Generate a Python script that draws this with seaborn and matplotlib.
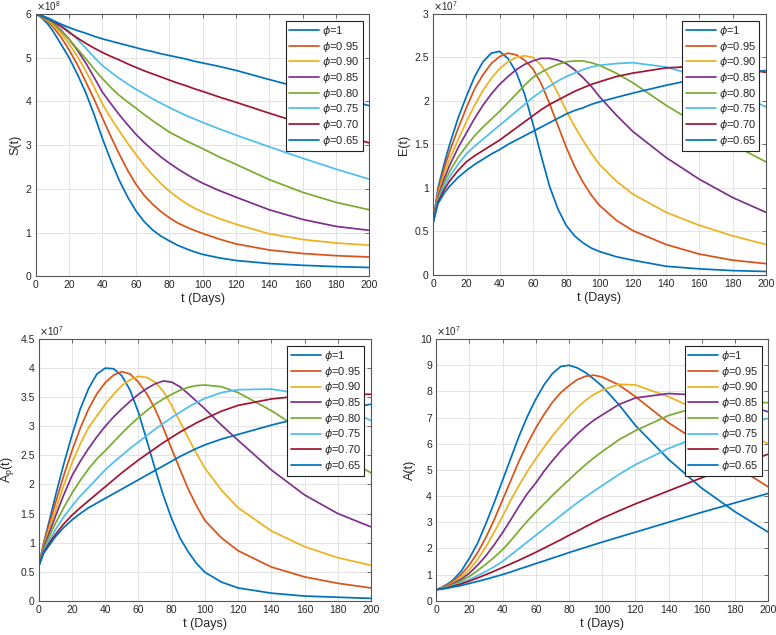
import numpy as np
import pandas as pd
import matplotlib
matplotlib.use('Agg')
import matplotlib.pyplot as plt
from matplotlib.ticker import FormatStrFormatter
import seaborn as sns

# time samples (days)
t_days = [0, 3, 7, 10, 15, 20, 25, 30, 35, 40, 45, 50, 55, 60, 65, 70, 75, 80, 85, 90, 95, 100, 110, 120, 140, 160, 180, 200]

phi_labels = [r'$\phi$=1', r'$\phi$=0.95', r'$\phi$=0.90', r'$\phi$=0.85',
              r'$\phi$=0.80', r'$\phi$=0.75', r'$\phi$=0.70', r'$\phi$=0.65']

# S(t), units of 1e8
S_1 = [6.00,5.93,5.78,5.63,5.32,5.00,4.62,4.20,3.70,3.15,2.65,2.20,1.82,1.50,1.25,1.06,0.92,0.81,0.71,0.63,0.56,0.50,0.42,0.36,0.29,0.25,0.22,0.20]
S_095 = [6.00,5.94,5.83,5.72,5.48,5.18,4.84,4.45,4.05,3.62,3.20,2.80,2.43,2.11,1.85,1.65,1.48,1.34,1.22,1.13,1.05,0.98,0.85,0.74,0.60,0.52,0.47,0.44]
S_090 = [6.00,5.95,5.86,5.77,5.57,5.32,5.03,4.70,4.33,3.94,3.62,3.33,3.05,2.79,2.54,2.32,2.12,1.95,1.80,1.67,1.56,1.47,1.32,1.19,0.97,0.84,0.76,0.71]
S_085 = [6.00,5.96,5.88,5.81,5.64,5.42,5.17,4.88,4.55,4.21,3.95,3.70,3.47,3.25,3.06,2.89,2.73,2.59,2.46,2.34,2.23,2.13,1.96,1.81,1.52,1.30,1.14,1.05]
S_080 = [6.00,5.96,5.88,5.80,5.62,5.42,5.20,4.98,4.74,4.52,4.32,4.14,3.99,3.85,3.70,3.56,3.43,3.30,3.20,3.10,3.01,2.92,2.73,2.56,2.21,1.92,1.69,1.52]
S_075 = [6.00,5.97,5.92,5.87,5.76,5.60,5.42,5.22,5.01,4.82,4.67,4.53,4.40,4.28,4.17,4.06,3.96,3.86,3.77,3.68,3.60,3.52,3.37,3.23,2.96,2.70,2.45,2.22]
S_070 = [6.00,5.97,5.90,5.84,5.72,5.58,5.45,5.33,5.22,5.12,5.03,4.95,4.86,4.78,4.70,4.63,4.56,4.49,4.42,4.36,4.29,4.23,4.10,3.98,3.73,3.49,3.26,3.05]
S_065 = [6.00,5.96,5.90,5.85,5.77,5.69,5.62,5.56,5.49,5.43,5.38,5.33,5.28,5.23,5.18,5.14,5.09,5.05,5.01,4.97,4.92,4.88,4.80,4.71,4.50,4.30,4.10,3.90]

# E(t), units of 1e7
E_1 = [0.60,1.00,1.30,1.50,1.80,2.05,2.28,2.45,2.55,2.57,2.49,2.33,2.08,1.74,1.37,1.02,0.76,0.57,0.45,0.37,0.31,0.27,0.21,0.17,0.10,0.07,0.05,0.04]
E_095 = [0.60,0.97,1.24,1.42,1.68,1.92,2.14,2.30,2.43,2.51,2.55,2.53,2.47,2.37,2.20,1.97,1.72,1.47,1.25,1.07,0.92,0.80,0.63,0.51,0.35,0.24,0.17,0.13]
E_090 = [0.60,0.93,1.18,1.33,1.55,1.76,1.95,2.12,2.26,2.37,2.45,2.50,2.52,2.50,2.41,2.27,2.09,1.89,1.71,1.55,1.40,1.27,1.08,0.93,0.72,0.57,0.45,0.35]
E_085 = [0.60,0.90,1.12,1.26,1.46,1.63,1.80,1.95,2.08,2.19,2.28,2.36,2.42,2.46,2.49,2.49,2.47,2.43,2.36,2.27,2.17,2.05,1.84,1.65,1.35,1.10,0.89,0.72]
E_080 = [0.60,0.88,1.07,1.19,1.35,1.48,1.60,1.70,1.79,1.88,1.98,2.08,2.18,2.27,2.33,2.38,2.42,2.45,2.46,2.46,2.44,2.41,2.32,2.21,1.95,1.72,1.50,1.30]
E_075 = [0.60,0.86,1.03,1.13,1.27,1.39,1.48,1.56,1.64,1.72,1.80,1.88,1.96,2.04,2.11,2.17,2.23,2.28,2.32,2.36,2.39,2.41,2.43,2.44,2.39,2.28,2.12,1.93]
E_070 = [0.60,0.84,0.99,1.08,1.20,1.30,1.37,1.43,1.49,1.55,1.62,1.69,1.76,1.83,1.90,1.96,2.01,2.06,2.11,2.15,2.19,2.22,2.28,2.32,2.38,2.40,2.38,2.33]
E_065 = [0.60,0.82,0.95,1.02,1.12,1.20,1.27,1.33,1.39,1.44,1.50,1.55,1.60,1.65,1.70,1.75,1.80,1.85,1.89,1.92,1.96,1.99,2.04,2.09,2.18,2.26,2.31,2.35]

# Ap(t), units of 1e7
Ap_1 = [0.60,1.00,1.45,1.80,2.35,2.85,3.30,3.65,3.90,4.00,3.99,3.87,3.62,3.24,2.76,2.27,1.81,1.41,1.08,0.84,0.64,0.49,0.32,0.22,0.13,0.08,0.06,0.04]
Ap_095 = [0.60,0.98,1.38,1.68,2.15,2.58,2.97,3.30,3.56,3.75,3.88,3.94,3.90,3.76,3.56,3.30,2.97,2.61,2.26,1.92,1.63,1.38,1.08,0.86,0.58,0.41,0.30,0.22]
Ap_090 = [0.60,0.95,1.30,1.55,1.98,2.37,2.70,2.98,3.18,3.38,3.55,3.70,3.80,3.86,3.84,3.76,3.60,3.36,3.08,2.80,2.53,2.28,1.90,1.60,1.20,0.93,0.74,0.61]
Ap_085 = [0.60,0.92,1.22,1.45,1.82,2.15,2.40,2.62,2.82,3.00,3.16,3.30,3.43,3.55,3.65,3.73,3.78,3.76,3.68,3.56,3.43,3.30,3.02,2.76,2.25,1.82,1.50,1.27]
Ap_080 = [0.60,0.89,1.15,1.33,1.60,1.85,2.07,2.27,2.44,2.58,2.73,2.88,3.02,3.15,3.27,3.38,3.47,3.55,3.62,3.67,3.70,3.71,3.68,3.58,3.27,2.90,2.52,2.20]
Ap_075 = [0.60,0.86,1.07,1.22,1.44,1.63,1.80,1.95,2.10,2.25,2.38,2.50,2.62,2.73,2.84,2.95,3.05,3.15,3.24,3.33,3.41,3.48,3.58,3.63,3.64,3.55,3.35,3.10]
Ap_070 = [0.60,0.84,1.02,1.14,1.32,1.47,1.60,1.72,1.84,1.96,2.08,2.20,2.31,2.42,2.52,2.62,2.72,2.81,2.90,2.98,3.06,3.13,3.26,3.36,3.47,3.53,3.55,3.55]
Ap_065 = [0.60,0.82,0.98,1.10,1.26,1.39,1.50,1.60,1.68,1.76,1.84,1.92,2.00,2.08,2.16,2.24,2.32,2.40,2.48,2.55,2.62,2.68,2.78,2.86,3.02,3.16,3.28,3.38]

# A(t), units of 1e7
A_1 = [0.42,0.50,0.64,0.78,1.12,1.62,2.20,2.95,3.75,4.60,5.45,6.30,7.05,7.70,8.25,8.68,8.95,9.00,8.90,8.72,8.47,8.20,7.50,6.70,5.40,4.30,3.40,2.62]
A_095 = [0.42,0.49,0.61,0.73,1.00,1.36,1.84,2.42,3.10,3.85,4.60,5.35,6.00,6.60,7.12,7.58,7.95,8.22,8.45,8.58,8.62,8.55,8.25,7.80,6.80,5.98,5.15,4.35]
A_090 = [0.42,0.48,0.58,0.68,0.90,1.18,1.58,2.06,2.62,3.22,3.85,4.42,4.95,5.42,5.87,6.30,6.68,7.05,7.38,7.66,7.88,8.05,8.27,8.25,7.80,7.22,6.60,6.00]
A_085 = [0.42,0.47,0.56,0.64,0.82,1.05,1.36,1.72,2.14,2.60,3.10,3.62,4.10,4.50,4.95,5.35,5.72,6.05,6.37,6.65,6.90,7.10,7.50,7.75,7.92,7.85,7.60,7.22]
A_080 = [0.42,0.47,0.54,0.61,0.75,0.93,1.15,1.40,1.66,1.95,2.30,2.68,3.05,3.38,3.70,4.02,4.33,4.62,4.92,5.20,5.46,5.70,6.15,6.50,7.08,7.45,7.60,7.57]
A_075 = [0.42,0.46,0.52,0.57,0.68,0.81,0.96,1.12,1.30,1.50,1.75,2.00,2.25,2.50,2.75,3.00,3.25,3.50,3.74,3.97,4.19,4.40,4.82,5.20,5.82,6.32,6.70,6.97]
A_070 = [0.42,0.45,0.50,0.55,0.64,0.75,0.87,1.00,1.13,1.27,1.41,1.55,1.70,1.85,2.01,2.17,2.33,2.50,2.66,2.83,2.99,3.15,3.43,3.70,4.20,4.70,5.17,5.60]
A_065 = [0.42,0.44,0.48,0.52,0.58,0.66,0.74,0.82,0.91,1.00,1.10,1.21,1.31,1.42,1.52,1.63,1.73,1.84,1.94,2.04,2.14,2.24,2.43,2.62,3.00,3.38,3.74,4.10]

# matlab default line colours
colors = ['#0072BD', '#D95319', '#EDB120', '#7E2F8E', '#77AC30', '#4DBEEE', '#A2142F', '#0072BD']

sns.set_style('white')
plt.rcParams['font.family'] = ['Liberation Sans', 'DejaVu Sans']
plt.rcParams['mathtext.fontset'] = 'dejavusans'

panels = [
    (S_1, S_095, S_090, S_085, S_080, S_075, S_070, S_065),
    (E_1, E_095, E_090, E_085, E_080, E_075, E_070, E_065),
    (Ap_1, Ap_095, Ap_090, Ap_085, Ap_080, Ap_075, Ap_070, Ap_065),
    (A_1, A_095, A_090, A_085, A_080, A_075, A_070, A_065),
]
ylabels = ['S(t)', 'E(t)', r'A$_\mathregular{p}$(t)', 'A(t)']
exps = ['8', '7', '7', '7']
ylims = [(0, 6), (0, 3), (0, 4.5), (0, 10)]
ysteps = [1, 0.5, 0.5, 1]
# axes rectangles [left, bottom, width, height] in figure fraction
rects = [[0.046, 0.565, 0.430, 0.413],
         [0.558, 0.567, 0.429, 0.411],
         [0.050, 0.054, 0.428, 0.412],
         [0.562, 0.054, 0.428, 0.412]]

fig = plt.figure(figsize=(7.76, 6.35), dpi=100)

for k in range(4):
    ax = fig.add_axes(rects[k])
    for i in range(8):
        sns.lineplot(x=t_days, y=panels[k][i], color=colors[i], label=phi_labels[i],
                     linewidth=1.25, ax=ax, estimator=None, sort=False)
    ax.set_xlim(0, 200)
    ax.set_ylim(*ylims[k])
    ax.set_xticks(np.arange(0, 201, 20))
    ax.set_yticks(np.arange(ylims[k][0], ylims[k][1] + 0.001, ysteps[k]))
    ax.yaxis.set_major_formatter(FormatStrFormatter('%g'))
    ax.grid(True, color='#dedede', linewidth=0.6)
    ax.set_axisbelow(True)
    for sp in ax.spines.values():
        sp.set_color('#555555')
        sp.set_linewidth(0.8)
        sp.set_visible(True)
    ax.tick_params(direction='in', length=3, width=0.6, color='#555555',
                   top=True, right=True, labelsize=7.5, labelcolor='#262626', pad=3)
    ax.set_xlabel('t (Days)', fontsize=9, color='#262626', labelpad=2)
    ax.set_ylabel(ylabels[k], fontsize=9, color='#262626', labelpad=3)
    ax.text(0.0, 1.005, r'$\times\mathregular{10^{%s}}$' % exps[k], transform=ax.transAxes,
            fontsize=7, color='#262626', ha='left', va='bottom')
    leg = ax.legend(loc='upper right', fontsize=8, frameon=True, fancybox=False,
                    framealpha=1, edgecolor='#222222', borderpad=0.3, labelspacing=0.15,
                    handlelength=2.7, handletextpad=0.3, borderaxespad=0.6)
    leg.get_frame().set_linewidth(0.8)

plt.savefig('out.png', dpi=100)
